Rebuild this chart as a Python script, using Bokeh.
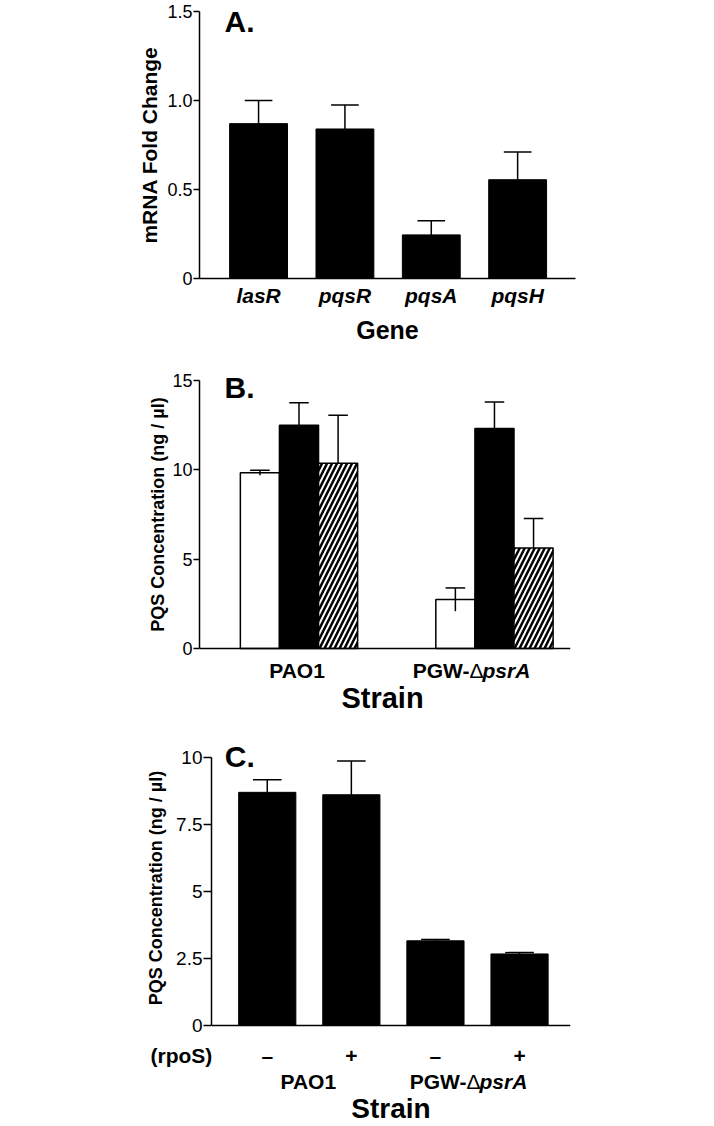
from bokeh.plotting import figure
from bokeh.models import Range1d, FixedTicker, Span
from bokeh.layouts import column
from bokeh.core.properties import value
from bokeh.embed import file_html
from bokeh.resources import INLINE

FONT = "Liberation Sans"

# ---------------- data ----------------
# Panel A
genes = ["lasR", "pqsR", "pqsA", "pqsH"]
fold_change = [0.87, 0.84, 0.245, 0.555]
fold_change_err = [0.13, 0.135, 0.08, 0.155]
a_yticks = [0, 0.5, 1.0, 1.5]
a_yticklabels = ["0", "0.5", "1.0", "1.5"]

# Panel B
strain_pao1 = "PAO1"
strain_pgw = ["PGW-", "\u0394", "psrA"]
b_white = [9.83, 2.74]
b_white_err = [0.14, 0.65]
b_black = [12.50, 12.31]
b_black_err = [1.25, 1.49]
b_hatch = [10.37, 5.63]
b_hatch_err = [2.69, 1.64]
b_yticks = [0, 5, 10, 15]
b_yticklabels = ["0", "5", "10", "15"]

# Panel C
c_rpos = ["\u2013", "+", "\u2013", "+"]
c_vals = [8.70, 8.61, 3.16, 2.67]
c_err = [0.47, 1.26, 0.05, 0.05]
c_yticks = [0, 2.5, 5, 7.5, 10]
c_yticklabels = ["0", "2.5", "5", "7.5", "10"]

YLABEL_PQS = "PQS Concentration (ng / \u00b5l)"
W = 620
BASE_SHIFT = 0.35   # text glyph baseline correction (fraction of font size)


def no_align(p):
    try:
        p.frame_align = False
    except AttributeError:
        pass


def style_common(p):
    p.xgrid.visible = False
    p.ygrid.visible = False
    p.outline_line_color = None
    p.background_fill_color = "white"
    p.border_fill_color = "white"
    no_align(p)


def make_fig(height, xr, yr, mbl, mbt, mbb, frame_w):
    p = figure(width=W, height=height, x_range=Range1d(*xr), y_range=Range1d(*yr),
               output_backend="svg", toolbar_location=None,
               min_border_left=mbl, min_border_top=mbt,
               min_border_right=W - mbl - frame_w, min_border_bottom=mbb)
    style_common(p)
    for ax in (p.xaxis[0], p.yaxis[0]):
        ax.axis_line_color = "black"
        ax.axis_line_width = 1.5
        ax.minor_tick_line_color = None
        ax.major_label_text_font = FONT
        ax.axis_label_text_font = FONT
        ax.axis_label_text_font_style = "bold"
        ax.major_label_text_color = "black"
        ax.axis_label_text_color = "black"
    p.yaxis.major_tick_line_color = "black"
    p.yaxis.major_tick_line_width = 1.5
    p.yaxis.major_tick_in = 0
    p.yaxis.major_tick_out = 6
    p.yaxis.major_label_standoff = 1
    p.yaxis.major_label_text_font_size = "18px"
    p.xaxis.major_tick_line_color = None
    p.xaxis.major_tick_in = 0
    p.xaxis.major_tick_out = 0
    return p


def label_fig(height, xr, mbl, frame_w):
    ppx = frame_w / (xr[1] - xr[0])
    x0 = xr[0] - mbl / ppx
    x1 = xr[1] + (W - mbl - frame_w) / ppx
    p = figure(width=W, height=height, x_range=Range1d(x0, x1), y_range=Range1d(height, 0),
               output_backend="svg", toolbar_location=None,
               x_axis_location=None, y_axis_location=None,
               min_border_left=0, min_border_right=0, min_border_top=0, min_border_bottom=0)
    style_common(p)
    return p


def txt(p, xs, ys, texts, size=21, style="bold", align="center", xo=0, yo=0):
    p.text(x=xs, y=ys, text=texts, x_offset=xo, y_offset=yo - BASE_SHIFT * size,
           text_font=value(FONT), text_font_size=value(f"{size}px"),
           text_font_style=value(style), text_align=value(align),
           text_baseline=value("alphabetic"), text_color="black")


def err_bars(p, xs, tops, lows, hw):
    p.segment(x0=xs, y0=lows, x1=xs, y1=tops, line_color="black", line_width=1.5)
    p.segment(x0=[x - hw for x in xs], y0=tops, x1=[x + hw for x in xs], y1=tops,
              line_color="black", line_width=1.5)


def zero_axis(p):
    p.xaxis.visible = False
    p.add_layout(Span(location=0, dimension="width", line_color="black", line_width=1.5))


# ---------------- Panel A ----------------
xa = [i + 1 for i in range(len(genes))]
ax_r = (0.316, 4.67)
pa = make_fig(350, ax_r, (0, 1.5), 199, 11, 72, 376)
pa.vbar(x=xa, top=fold_change, width=0.67, fill_color="black", line_color="black")
err_bars(pa, xa, [v + e for v, e in zip(fold_change, fold_change_err)], fold_change, 0.16)
pa.yaxis.ticker = FixedTicker(ticks=a_yticks)
pa.yaxis.major_label_overrides = dict(zip(a_yticks, a_yticklabels))
pa.yaxis.axis_label = "mRNA Fold Change"
pa.yaxis.axis_label_text_font_size = "21px"
pa.yaxis.axis_label_standoff = 3
pa.xaxis.ticker = FixedTicker(ticks=xa)
pa.xaxis.major_label_overrides = dict(zip(xa, genes))
pa.xaxis.major_label_text_font_size = "21px"
pa.xaxis.major_label_text_font_style = "bold italic"
pa.xaxis.major_label_standoff = 5
pa.xaxis.axis_label = "Gene"
pa.xaxis.axis_label_text_font_size = "25px"
pa.xaxis.axis_label_standoff = 6
txt(pa, [ax_r[0]], [1.5], ["A."], size=30, align="left", xo=25, yo=20.7)

# ---------------- Panel B ----------------
xb = [1, 2]
bx_r = (0.491, 2.389)
b_ppu = 268 / 15.0                      # pixels per unit (y)
by_r = (-12 / b_ppu, 15 + 12 / b_ppu)   # frame symmetric around the 0..15 axis
pb = make_fig(310, bx_r, by_r, 199, 18, 0, 371)
off = 0.2
xw = [x - off for x in xb]
xk = list(xb)
xh = [x + off for x in xb]
pb.vbar(x=xw, top=b_white, width=off, fill_color="white", line_color="black", line_width=1.5)
pb.vbar(x=xk, top=b_black, width=off, fill_color="black", line_color="black", line_width=1.5)
pb.vbar(x=xh, top=b_hatch, width=off, fill_color="white", line_color="black", line_width=1.5,
        hatch_pattern="/", hatch_color="black", hatch_weight=2.5, hatch_scale=10)
err_bars(pb, xw, [v + e for v, e in zip(b_white, b_white_err)],
         [v - e for v, e in zip(b_white, b_white_err)], 0.05)
err_bars(pb, xk, [v + e for v, e in zip(b_black, b_black_err)], b_black, 0.05)
err_bars(pb, xh, [v + e for v, e in zip(b_hatch, b_hatch_err)], b_hatch, 0.05)
pb.yaxis.ticker = FixedTicker(ticks=b_yticks)
pb.yaxis.bounds = (b_yticks[0], b_yticks[-1])
pb.yaxis.major_label_overrides = dict(zip(b_yticks, b_yticklabels))
pb.yaxis.axis_label = YLABEL_PQS
pb.yaxis.axis_label_text_font_size = "18px"
pb.yaxis.axis_label_standoff = 1
zero_axis(pb)
txt(pb, [bx_r[0]], [by_r[1]], ["B."], size=30, align="left", xo=25, yo=29.7)

pb_lab = label_fig(80, bx_r, 199, 371)
txt(pb_lab, [xb[0]], [17], [strain_pao1], xo=-2)
txt(pb_lab, [xb[1]], [17], [strain_pgw[0]], align="right", xo=-25)
txt(pb_lab, [xb[1]], [17], [strain_pgw[1]], style="normal", align="left", xo=-25)
txt(pb_lab, [xb[1]], [17], [strain_pgw[2]], style="bold italic", align="left", xo=-12)
txt(pb_lab, [(bx_r[0] + bx_r[1]) / 2], [47.5], ["Strain"], size=29, xo=-2.5)

# ---------------- Panel C ----------------
xc = [1, 2, 3, 4]
cx_r = (0.337, 4.606)
c_ppu = 268 / 10.0
cy_r = (-10 / c_ppu, 10 + 17 / c_ppu)
pc = make_fig(295, cx_r, cy_r, 211, 0, 0, 359)
pc.vbar(x=xc, top=c_vals, width=0.68, fill_color="black", line_color="black")
err_bars(pc, xc, [v + e for v, e in zip(c_vals, c_err)], c_vals, 0.17)
pc.yaxis.ticker = FixedTicker(ticks=c_yticks)
pc.yaxis.bounds = (c_yticks[0], c_yticks[-1])
pc.yaxis.major_label_overrides = dict(zip(c_yticks, c_yticklabels))
pc.yaxis.major_label_text_font_size = "19px"
pc.yaxis.major_tick_out = 8
pc.yaxis.axis_label = YLABEL_PQS
pc.yaxis.axis_label_text_font_size = "18px"
pc.yaxis.axis_label_standoff = 7
zero_axis(pc)
txt(pc, [cx_r[0]], [cy_r[1]], ["C."], size=30, align="left", xo=13.3, yo=26)

groups_c = [(xc[0] + xc[1]) / 2, (xc[2] + xc[3]) / 2]
pc_lab = label_fig(91, cx_r, 211, 359)
txt(pc_lab, [cx_r[0]], [27], ["(rpoS)"], align="left", xo=-61)
txt(pc_lab, xc, [27.5] * len(xc), c_rpos)
txt(pc_lab, [groups_c[0]], [53], [strain_pao1], xo=-1)
txt(pc_lab, [groups_c[1]], [53], [strain_pgw[0]], align="right", xo=-11)
txt(pc_lab, [groups_c[1]], [53], [strain_pgw[1]], style="normal", align="left", xo=-11)
txt(pc_lab, [groups_c[1]], [53], [strain_pgw[2]], style="bold italic", align="left", xo=2)
txt(pc_lab, [(cx_r[0] + cx_r[1]) / 2], [83], ["Strain"], size=28)

layout = column(pa, pb, pb_lab, pc, pc_lab, spacing=0)
open("out.html", "w").write(file_html(layout, INLINE))
